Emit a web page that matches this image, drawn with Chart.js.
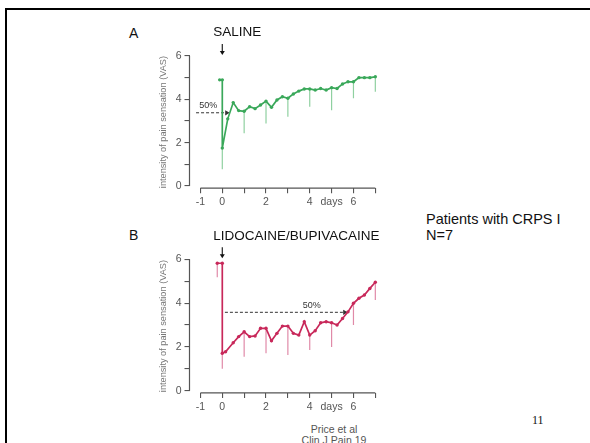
<!DOCTYPE html>
<html>
<head>
<meta charset="utf-8">
<script src="https://cdn.jsdelivr.net/npm/chart.js@4.4.1/dist/chart.umd.min.js"></script>
<style>
  body { margin:0; width:590px; height:443px; background:#fff; position:relative; overflow:hidden;
         font-family: Arial, "Liberation Sans", sans-serif; }
  .frame { position:absolute; left:5px; top:8px; width:600px; height:460px;
           border-top:2px solid #000; border-left:2px solid #000; }
  .t { position:absolute; white-space:nowrap; color:#111; }
  .cv { position:absolute; left:140px; width:260px; }
</style>
</head>
<body>
<div class="frame"></div>
<div class="t" style="left:129px;top:25px;font-size:14px;line-height:16px">A</div>
<div class="t" style="left:129px;top:227px;font-size:14px;line-height:16px">B</div>
<div class="t" style="left:426px;top:212px;font-size:14.5px;line-height:15.5px">Patients with CRPS I<br>N=7</div>
<div class="t" style="left:532px;top:413px;font-size:12px;font-family:'Liberation Serif','Times New Roman',serif">11</div>
<div class="t" style="left:294px;top:424px;width:80px;text-align:center;font-size:10.5px;line-height:11px;color:#555">Price et al<br>Clin J Pain 19</div>
<div class="cv" style="top:20px;height:195px"><canvas id="chartA"></canvas></div>
<div class="cv" style="top:222px;height:198px"><canvas id="chartB"></canvas></div>

<script>
// axes
var xTicks = [-1, 0, 1, 2, 3, 4, 5, 6, 7];
var xTickLabels = ['-1', '0', '', '2', '', '4', 'days', '6', ''];
var yTicks = [0, 1, 2, 3, 4, 5, 6];
var yTickLabels = ['0', '', '2', '', '4', '', '6'];

// A - saline (days, VAS)
var dayA = [-0.12, 0, 0, 0.25, 0.5, 0.75, 1, 1.25, 1.5, 1.75, 2, 2.25, 2.5, 2.75, 3, 3.25, 3.5, 3.75,
            4, 4.25, 4.5, 4.75, 5, 5.25, 5.5, 5.75, 6, 6.25, 6.5, 6.75, 7];
var vasA = [4.9, 4.9, 1.75, 3.1, 3.85, 3.48, 3.45, 3.66, 3.57, 3.74, 3.92, 3.63, 3.97, 4.12, 4.05, 4.25, 4.38, 4.48,
            4.48, 4.43, 4.5, 4.43, 4.54, 4.5, 4.71, 4.81, 4.81, 5.0, 5.0, 5.0, 5.04];
var errIdxA = [2, 6, 10, 14, 18, 22, 26, 30];
var errLowA = [0.78, 2.43, 2.89, 3.2, 3.66, 3.5, 4.05, 4.35];
var halfDayA = [-1.2, 0.2];
var halfVasA = 3.38;
var pctPosA = [-0.64, 3.7];

// B - lidocaine/bupivacaine
var dayB = [-0.23, 0, 0, 0.15, 0.5, 0.75, 1, 1.25, 1.5, 1.75, 2, 2.25, 2.5, 2.75, 3, 3.25, 3.5, 3.75,
            4, 4.25, 4.5, 4.75, 5, 5.25, 5.5, 5.75, 6, 6.25, 6.5, 6.75, 7];
var vasB = [5.82, 5.82, 1.71, 1.78, 2.19, 2.47, 2.69, 2.47, 2.5, 2.85, 2.85, 2.28, 2.62, 2.95, 2.95, 2.62, 2.54, 3.15,
            2.54, 2.74, 3.1, 3.15, 3.1, 3.0, 3.3, 3.6, 3.99, 4.22, 4.37, 4.67, 4.95];
var errIdxB = [0, 2, 6, 10, 14, 18, 22, 26, 30];
var errLowB = [5.18, 1.0, 1.55, 1.71, 1.63, 1.86, 2.0, 3.0, 4.14];
var halfDayB = [0.12, 5.6];
var halfVasB = 3.58;
var pctPosB = [4.09, 3.87];

Chart.defaults.font.family = 'Arial, "Liberation Sans", sans-serif';

var marks = {
  id: 'marks',
  afterDraw: function(chart, args, o) {
    var ctx = chart.ctx, a = chart.chartArea, x = chart.scales.x, y = chart.scales.y;
    ctx.save();
    // axis lines (detached style)
    ctx.strokeStyle = '#555';
    ctx.lineWidth = 1.2;
    ctx.beginPath();
    ctx.moveTo(x.getPixelForValue(xTicks[0]), a.bottom);
    ctx.lineTo(x.getPixelForValue(xTicks[xTicks.length - 1]), a.bottom);
    ctx.moveTo(a.left, y.getPixelForValue(yTicks[yTicks.length - 1]));
    ctx.lineTo(a.left, y.getPixelForValue(yTicks[0]));
    ctx.stroke();
    // treatment label + arrow
    var x0 = x.getPixelForValue(0);
    ctx.fillStyle = '#111';
    ctx.font = '13.5px Arial, "Liberation Sans", sans-serif';
    ctx.textBaseline = 'middle';
    ctx.textAlign = 'left';
    ctx.fillText(o.drug, x0 - 9, a.top - 23.5);
    ctx.strokeStyle = '#222';
    ctx.lineWidth = 1.2;
    ctx.beginPath();
    ctx.moveTo(x0, a.top - 12);
    ctx.lineTo(x0, a.top - 4);
    ctx.stroke();
    ctx.beginPath();
    ctx.moveTo(x0 - 2.5, a.top - 5);
    ctx.lineTo(x0 + 2.5, a.top - 5);
    ctx.lineTo(x0, a.top - 1);
    ctx.closePath();
    ctx.fill();
    // 50% label
    ctx.fillStyle = '#333';
    ctx.font = '9px Arial, "Liberation Sans", sans-serif';
    ctx.textAlign = 'center';
    ctx.fillText('50%', x.getPixelForValue(o.pct[0]), y.getPixelForValue(o.pct[1]));
    ctx.restore();
  }
};

function makeChart(id, days, vals, errIdx, errLow, halfDays, halfVas, pct, drug, color, light, pad) {
  var series = days.map(function(d, i) { return {x: d, y: vals[i]}; });
  var errs = [];
  errIdx.forEach(function(k, i) {
    errs.push({x: days[k], y: vals[k]}, {x: days[k], y: errLow[i]}, {x: days[k], y: null});
  });
  var half = [{x: halfDays[0], y: halfVas}, {x: halfDays[1], y: halfVas}];

  return new Chart(document.getElementById(id), {
    type: 'line',
    data: {
      datasets: [
        { data: series, borderColor: color, borderWidth: 1.7, pointRadius: 1.7,
          pointBackgroundColor: color, pointBorderWidth: 0, tension: 0 },
        { data: errs, borderColor: light, borderWidth: 1.2, pointRadius: 0, spanGaps: false },
        { data: half, borderColor: '#333', borderWidth: 1, borderDash: [3, 2],
          pointStyle: 'triangle', rotation: 90, pointBackgroundColor: '#333', pointBorderWidth: 0,
          pointRadius: function(c) { return c.dataIndex === 1 ? 3 : 0; } }
      ]
    },
    options: {
      responsive: true,
      maintainAspectRatio: false,
      animation: false,
      layout: { padding: pad },
      plugins: { legend: { display: false }, tooltip: { enabled: false },
                 marks: { drug: drug, pct: pct } },
      scales: {
        x: {
          type: 'linear', min: -1.5, max: 7.15,
          afterBuildTicks: function(s) { s.ticks = xTicks.map(function(v) { return {value: v}; }); },
          afterFit: function(s) { s.height = 20; },
          border: { display: false },
          grid: { display: true, drawOnChartArea: false, drawTicks: true, tickLength: 5, color: '#555', lineWidth: 1.1 },
          ticks: { padding: 3, color: '#555', font: { size: 10.5 }, maxRotation: 0, autoSkip: false,
                   callback: function(v, i) { return xTickLabels[i]; } }
        },
        y: {
          min: -0.1, max: 6,
          afterBuildTicks: function(s) { s.ticks = yTicks.map(function(v) { return {value: v}; }); },
          afterFit: function(s) { s.width = 36; },
          border: { display: false },
          grid: { display: true, drawOnChartArea: false, drawTicks: true, tickLength: 5, color: '#555', lineWidth: 1.1 },
          ticks: { padding: 3, color: '#555', font: { size: 10.5 }, autoSkip: false,
                   callback: function(v, i) { return yTickLabels[i]; } },
          title: { display: true, text: 'intensity of pain sensation (VAS)', color: '#777',
                   font: { size: 9.2 }, padding: { top: 4, bottom: 0 } }
        }
      }
    },
    plugins: [marks]
  });
}

makeChart('chartA', dayA, vasA, errIdxA, errLowA, halfDayA, halfVasA, pctPosA, 'SALINE',
          '#3aa85a', '#8fd0a0', { left: 13.5, top: 36, right: 21.4, bottom: 6.8 });
makeChart('chartB', dayB, vasB, errIdxB, errLowB, halfDayB, halfVasB, pctPosB, 'LIDOCAINE/BUPIVACAINE',
          '#c8285a', '#e08aa8', { left: 13.5, top: 37.3, right: 21.4, bottom: 7.1 });
</script>
</body>
</html>
